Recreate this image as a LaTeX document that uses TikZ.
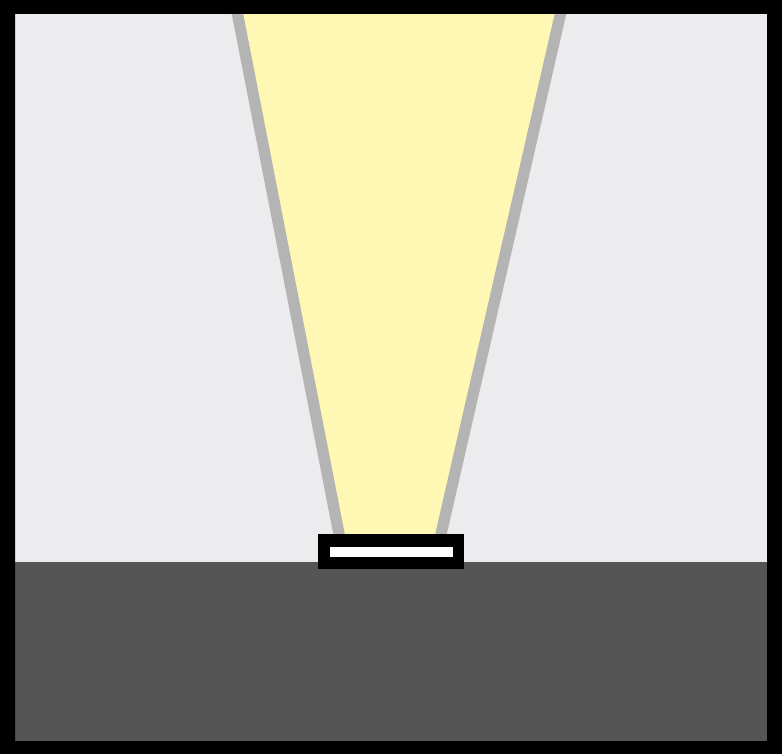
\documentclass[tikz,border=0pt]{standalone}
\begin{document}
\begin{tikzpicture}[x=1pt,y=-1pt]
\definecolor{wallc}{HTML}{ECECEE}
\definecolor{floorc}{HTML}{555555}
\definecolor{beamc}{HTML}{FFF8B5}
\definecolor{edgec}{HTML}{B4B4B4}
\useasboundingbox (0,0) rectangle (782,754);
% wall
\fill[wallc] (0,0) rectangle (782,754);
% floor
\fill[floorc] (0,562) rectangle (782,754);
% beam
\begin{scope}
\clip (0,0) rectangle (782,534);
\fill[beamc] (232.8,-10) -- (566,-10) -- (439.6,540) -- (340.2,540) -- cycle;
\draw[edgec, line width=11.3] (232.8,-10) -- (340.2,540);
\draw[edgec, line width=11.3] (566,-10) -- (439.6,540);
\end{scope}
% fixture
\fill[black] (318,534) rectangle (464,569);
\fill[white] (330,547) rectangle (453,557);
% frame
\fill[black, even odd rule] (0,0) rectangle (782,754) (15,14) rectangle (767,741);
\end{tikzpicture}
\end{document}
